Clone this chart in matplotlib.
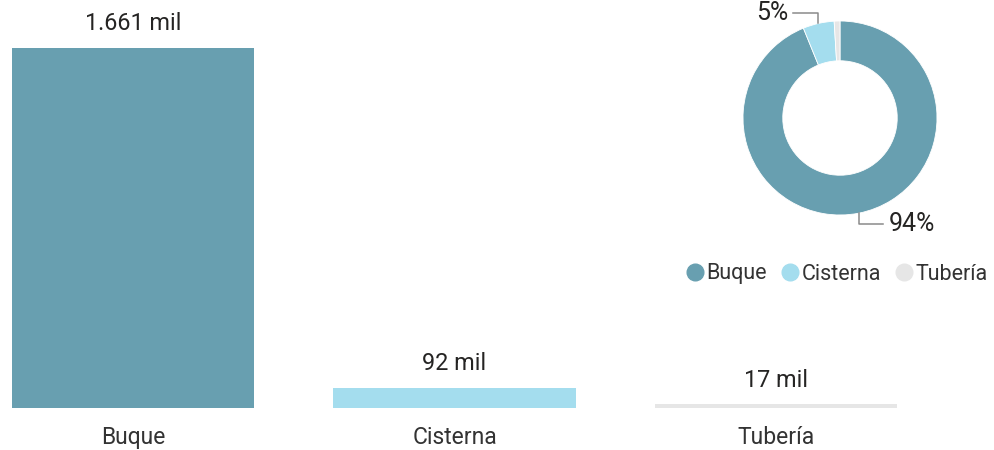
import numpy as np
import matplotlib
matplotlib.use("Agg")
import matplotlib.pyplot as plt
from matplotlib.lines import Line2D

plt.rcParams['font.family'] = ['Roboto', 'DejaVu Sans']

categories = ["Buque", "Cisterna", "Tubería"]
values = [1661, 92, 17]  # miles
value_labels = ["1.661 mil", "92 mil", "17 mil"]
pct_labels = ["94%", "5%", ""]
colors = ["#689FB0", "#A4DDEE", "#E6E6E6"]
text_color = "#252423"

W, H = 995, 450
fig = plt.figure(figsize=(W / 100, H / 100), dpi=100)

# ---- bar chart ----
ax = fig.add_axes([12 / W, 42 / H, 885 / W, 398 / H])
x = np.arange(len(categories))
ax.bar(x, values, width=0.754, color=colors)
ax.set_xlim(-0.377, 2.377)
ax.set_ylim(0, 1661 * 398 / 360)
for xi, v, lab in zip(x, values, value_labels):
    ax.annotate(lab, (xi, v), xytext=(0, 17.5), textcoords="offset points",
                ha="center", va="center", fontsize=16.8, color=text_color)
ax.set_xticks(x)
ax.set_xticklabels(categories, fontsize=16.5, color="#333333")
ax.tick_params(axis="x", length=0, pad=13)
ax.set_yticks([])
for s in ax.spines.values():
    s.set_visible(False)

# ---- donut ----
cx, cy, r = 840, 118, 97
half = 110
pax = fig.add_axes([(cx - half) / W, (H - cy - half) / H, 2 * half / W, 2 * half / H])
wedges, _ = pax.pie(values, colors=colors, startangle=90, counterclock=False,
                    radius=1.0, wedgeprops=dict(width=0.41, edgecolor="white", linewidth=0.6))
lim = half / r
pax.set_xlim(-lim, lim)
pax.set_ylim(-lim, lim)
pax.set_aspect("equal")
pax.axis("off")

px = 1 / r  # one pixel in donut data units
for w, lab in zip(wedges, pct_labels):
    if not lab:
        continue
    ang = np.deg2rad((w.theta1 + w.theta2) / 2)
    x0, y0 = np.cos(ang), np.sin(ang)
    if y0 > 0:
        y1 = y0 + 10 * px
    else:
        y1 = y0 - 11 * px
    if x0 < 0:
        x2 = x0 - 25 * px
        ha = "right"
        tx = x2 - 5 * px
    else:
        x2 = x0 + 24 * px
        ha = "left"
        tx = x2 + 6 * px
    pax.plot([x0, x0, x2], [y0, y1, y1], color="#8a8a8a", lw=1.1, clip_on=False)
    pax.text(tx, y1, lab, ha=ha, va="center", fontsize=18, color=text_color, clip_on=False)

handles = [Line2D([], [], marker="o", linestyle="none", markersize=12,
                  markerfacecolor=c, markeredgecolor=c) for c in colors]
fig.legend(handles, categories, loc="center", bbox_to_anchor=(836 / W, (H - 274) / H),
           ncol=3, frameon=False, fontsize=15.5, handletextpad=0.05,
           columnspacing=0.55, handlelength=1.0, labelcolor="#333333")

fig.savefig("out.png", dpi=100)
